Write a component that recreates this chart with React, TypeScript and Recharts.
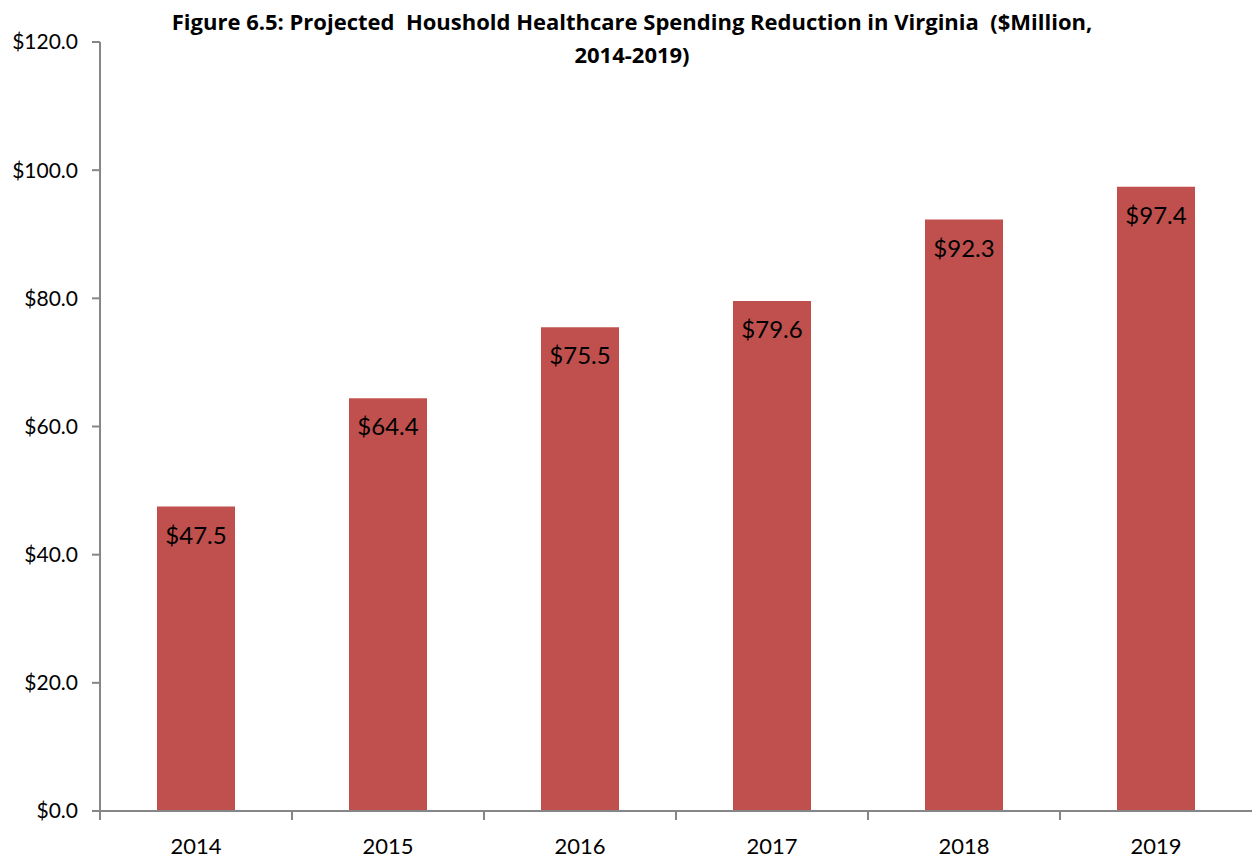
import { BarChart, Bar, XAxis, YAxis, LabelList } from "recharts";

const years = ["2014", "2015", "2016", "2017", "2018", "2019"];
const reduction = [47.5, 64.4, 75.5, 79.6, 92.3, 97.4];
const yTicks = [0, 20, 40, 60, 80, 100, 120];

const data = years.map((year, i) => ({ year, value: reduction[i] }));

const FONT = "Lato, 'Open Sans', sans-serif";
const AXIS = "#868686";
const money = (v: number) => `$${v.toFixed(1)}`;

// year label at the band centre, tick mark on the band's left edge (Excel style)
function YearTick(props: any) {
  const { x, y, payload, visibleTicksCount, width } = props;
  const half = payload?.offset ?? width / visibleTicksCount / 2;
  return (
    <g>
      <line x1={x - half} x2={x - half} y1={y} y2={y + 9} stroke={AXIS} strokeWidth={2} />
      <text x={x} y={y + 43} textAnchor="middle" fill="#000" fontSize={22} fontFamily={FONT}>
        {payload.value}
      </text>
    </g>
  );
}

export default function App() {
  return (
    <div
      style={{
        position: "absolute",
        left: 0,
        top: 0,
        width: 1252,
        height: 859,
        background: "#fff",
        fontFamily: FONT,
      }}
    >
      <BarChart
        width={1252}
        height={859}
        data={data}
        margin={{ top: 42, right: 0, bottom: 0, left: 0 }}
      >
        <XAxis
          dataKey="year"
          axisLine={{ stroke: AXIS, strokeWidth: 2 }}
          tickLine={false}
          tickSize={0}
          tickMargin={0}
          height={48}
          interval={0}
          tick={YearTick}
        />
        <YAxis
          domain={[0, 120]}
          ticks={yTicks}
          width={100}
          tickFormatter={money}
          axisLine={{ stroke: AXIS, strokeWidth: 2 }}
          tickLine={{ stroke: AXIS, strokeWidth: 2 }}
          tickSize={8}
          tickMargin={14}
          tick={{ fill: "#000", fontSize: 21, fontFamily: FONT }}
        />
        <Bar dataKey="value" fill="#C0504D" barSize={78} isAnimationActive={false}>
          <LabelList
            dataKey="value"
            position="insideTop"
            offset={20}
            formatter={(v: unknown) => money(Number(v))}
            style={{ fill: "#000", fontSize: 24, fontFamily: FONT }}
          />
        </Bar>
      </BarChart>
      <div
        style={{
          position: "absolute",
          left: 0,
          top: 5,
          width: 1264,
          textAlign: "center",
          fontFamily: "'Open Sans', sans-serif",
          fontWeight: 700,
          fontSize: 22,
          lineHeight: "33px",
          color: "#000",
        }}
      >
        Figure 6.5: Projected&nbsp; Houshold Healthcare Spending Reduction in Virginia&nbsp; ($Million,
        <br />
        2014-2019)
      </div>
    </div>
  );
}
